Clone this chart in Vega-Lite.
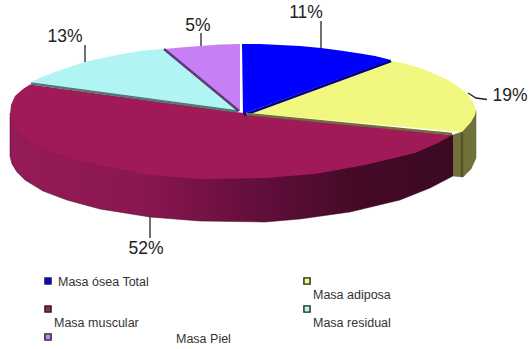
{
"$schema":"https://vega.github.io/schema/vega-lite/v6.json",
"width":529,"height":349,"padding":0,"autosize":{"type":"fit","contains":"padding"},
"background":"white","view":{"stroke":null},
"datasets":{
"outline":[
{"part":"wallMaroon","seq":1,"x":10,"y":113},{"part":"wallMaroon","seq":2,"x":10,"y":156},{"part":"wallMaroon","seq":3,"x":12,"y":164},{"part":"wallMaroon","seq":4,"x":17,"y":172},{"part":"wallMaroon","seq":5,"x":25,"y":180},{"part":"wallMaroon","seq":6,"x":43,"y":191},{"part":"wallMaroon","seq":7,"x":67,"y":200},{"part":"wallMaroon","seq":8,"x":100,"y":209},{"part":"wallMaroon","seq":9,"x":150,"y":217},{"part":"wallMaroon","seq":10,"x":200,"y":221},{"part":"wallMaroon","seq":11,"x":265,"y":222},{"part":"wallMaroon","seq":12,"x":300,"y":219},{"part":"wallMaroon","seq":13,"x":350,"y":212},{"part":"wallMaroon","seq":14,"x":400,"y":200},{"part":"wallMaroon","seq":15,"x":430,"y":188},{"part":"wallMaroon","seq":16,"x":453,"y":176},{"part":"wallMaroon","seq":17,"x":453,"y":135},{"part":"wallMaroon","seq":18,"x":265,"y":150},{"part":"wallMaroon","seq":19,"x":10,"y":113},
{"part":"wallYellow","seq":1,"x":453,"y":135},{"part":"wallYellow","seq":2,"x":462,"y":132},{"part":"wallYellow","seq":3,"x":471,"y":122},{"part":"wallYellow","seq":4,"x":476,"y":110},{"part":"wallYellow","seq":5,"x":476,"y":158},{"part":"wallYellow","seq":6,"x":471,"y":169},{"part":"wallYellow","seq":7,"x":463,"y":177},{"part":"wallYellow","seq":8,"x":453,"y":176},
{"part":"Masa muscular","seq":1,"x":30,"y":84.5},{"part":"Masa muscular","seq":2,"x":23,"y":89},{"part":"Masa muscular","seq":3,"x":15,"y":96},{"part":"Masa muscular","seq":4,"x":11,"y":105},{"part":"Masa muscular","seq":5,"x":10,"y":115},{"part":"Masa muscular","seq":6,"x":13,"y":124},{"part":"Masa muscular","seq":7,"x":23,"y":135},{"part":"Masa muscular","seq":8,"x":35,"y":144},{"part":"Masa muscular","seq":9,"x":50,"y":151},{"part":"Masa muscular","seq":10,"x":70,"y":158},{"part":"Masa muscular","seq":11,"x":100,"y":165},{"part":"Masa muscular","seq":12,"x":150,"y":175},{"part":"Masa muscular","seq":13,"x":200,"y":179},{"part":"Masa muscular","seq":14,"x":265,"y":178},{"part":"Masa muscular","seq":15,"x":315,"y":174},{"part":"Masa muscular","seq":16,"x":365,"y":165},{"part":"Masa muscular","seq":17,"x":415,"y":153},{"part":"Masa muscular","seq":18,"x":438,"y":143},{"part":"Masa muscular","seq":19,"x":452,"y":135},{"part":"Masa muscular","seq":20,"x":265,"y":115},{"part":"Masa muscular","seq":21,"x":240,"y":112.5},
{"part":"Masa ósea Total","seq":1,"x":242,"y":44},{"part":"Masa ósea Total","seq":2,"x":260,"y":44},{"part":"Masa ósea Total","seq":3,"x":280,"y":45},{"part":"Masa ósea Total","seq":4,"x":300,"y":46},{"part":"Masa ósea Total","seq":5,"x":321,"y":48},{"part":"Masa ósea Total","seq":6,"x":340,"y":50.5},{"part":"Masa ósea Total","seq":7,"x":360,"y":53.5},{"part":"Masa ósea Total","seq":8,"x":375,"y":56},{"part":"Masa ósea Total","seq":9,"x":391,"y":60},{"part":"Masa ósea Total","seq":10,"x":243,"y":114},
{"part":"Masa adiposa","seq":1,"x":391,"y":61},{"part":"Masa adiposa","seq":2,"x":405,"y":63.5},{"part":"Masa adiposa","seq":3,"x":420,"y":68},{"part":"Masa adiposa","seq":4,"x":435,"y":74},{"part":"Masa adiposa","seq":5,"x":450,"y":81},{"part":"Masa adiposa","seq":6,"x":460,"y":88},{"part":"Masa adiposa","seq":7,"x":468,"y":95},{"part":"Masa adiposa","seq":8,"x":473,"y":102},{"part":"Masa adiposa","seq":9,"x":476,"y":110},{"part":"Masa adiposa","seq":10,"x":475,"y":115},{"part":"Masa adiposa","seq":11,"x":471,"y":122},{"part":"Masa adiposa","seq":12,"x":462,"y":132},{"part":"Masa adiposa","seq":13,"x":248,"y":113},
{"part":"Masa residual","seq":1,"x":162,"y":49},{"part":"Masa residual","seq":2,"x":140,"y":51},{"part":"Masa residual","seq":3,"x":120,"y":54.5},{"part":"Masa residual","seq":4,"x":100,"y":58.5},{"part":"Masa residual","seq":5,"x":85,"y":62},{"part":"Masa residual","seq":6,"x":70,"y":67},{"part":"Masa residual","seq":7,"x":55,"y":72},{"part":"Masa residual","seq":8,"x":42,"y":77},{"part":"Masa residual","seq":9,"x":31,"y":82},{"part":"Masa residual","seq":10,"x":236,"y":110},
{"part":"Masa Piel","seq":1,"x":240,"y":44},{"part":"Masa Piel","seq":2,"x":220,"y":44.5},{"part":"Masa Piel","seq":3,"x":200,"y":46},{"part":"Masa Piel","seq":4,"x":180,"y":47.5},{"part":"Masa Piel","seq":5,"x":165,"y":49},{"part":"Masa Piel","seq":6,"x":240,"y":111}
],
"edges":[
{"edge":"cyanEdge","seq":1,"x":31,"y":83.5},{"edge":"cyanEdge","seq":2,"x":238,"y":111.5},
{"edge":"purpleEdge","seq":1,"x":164,"y":49},{"edge":"purpleEdge","seq":2,"x":239,"y":111},
{"edge":"blueEdge","seq":1,"x":391,"y":61},{"edge":"blueEdge","seq":2,"x":244,"y":115},
{"edge":"yellowEdge","seq":1,"x":246,"y":114},{"edge":"yellowEdge","seq":2,"x":452,"y":134},
{"edge":"yellowCorner","seq":1,"x":462,"y":132},{"edge":"yellowCorner","seq":2,"x":462,"y":177}
],
"leaders":[
{"leader":"11%","seq":1,"x":321,"y":21},{"leader":"11%","seq":2,"x":321,"y":48},
{"leader":"19%","seq":1,"x":468,"y":93},{"leader":"19%","seq":2,"x":476,"y":98},{"leader":"19%","seq":3,"x":487,"y":99.5},
{"leader":"13%","seq":1,"x":85,"y":45},{"leader":"13%","seq":2,"x":85,"y":62},
{"leader":"5%","seq":1,"x":201,"y":33},{"leader":"5%","seq":2,"x":201,"y":46},
{"leader":"52%","seq":1,"x":150,"y":217},{"leader":"52%","seq":2,"x":150,"y":238}
],
"shares":[
{"value":11,"text":"11%","x":306,"y":18},
{"value":19,"text":"19%","x":510,"y":101},
{"value":13,"text":"13%","x":65,"y":42},
{"value":5,"text":"5%","x":198,"y":31},
{"value":52,"text":"52%","x":146,"y":254}
],
"swatches":[
{"name":"Masa ósea Total","x":48,"y":281},
{"name":"Masa adiposa","x":307,"y":281},
{"name":"Masa muscular","x":48,"y":309},
{"name":"Masa residual","x":307,"y":309},
{"name":"Masa Piel","x":48,"y":337}
],
"names":[
{"name":"Masa ósea Total","x":58,"y":282},
{"name":"Masa adiposa","x":313,"y":295},
{"name":"Masa muscular","x":54,"y":323},
{"name":"Masa residual","x":313,"y":323},
{"name":"Masa Piel","x":176,"y":339}
]
},
"encoding":{
"x":{"field":"x","type":"quantitative","scale":{"domain":[0,529],"nice":false,"zero":false},"axis":null},
"y":{"field":"y","type":"quantitative","scale":{"domain":[349,0],"nice":false,"zero":false},"axis":null}
},
"layer":[
{"data":{"name":"outline"},"transform":[{"filter":"datum.part==='wallMaroon'"}],
 "mark":{"type":"line","interpolate":"linear","stroke":"#3a0a22","strokeWidth":0.5,"fill":{"gradient":"linear","x1":0,"y1":0,"x2":1,"y2":0,"stops":[{"offset":0,"color":"#951b57"},{"offset":0.3,"color":"#8a174f"},{"offset":0.55,"color":"#640e3c"},{"offset":0.78,"color":"#440a27"},{"offset":1,"color":"#3c0923"}]}},
 "encoding":{"order":{"field":"seq","type":"quantitative"}}},
{"data":{"name":"outline"},"transform":[{"filter":"datum.part==='wallYellow'"}],
 "mark":{"type":"line","stroke":"#5c5d30","strokeWidth":0.5,"fill":"#70723a"},
 "encoding":{"order":{"field":"seq","type":"quantitative"}}},
{"data":{"name":"outline"},"transform":[{"filter":"datum.part!=='wallMaroon' && datum.part!=='wallYellow'"}],
 "mark":{"type":"line","filled":true,"strokeWidth":0},
 "encoding":{
  "order":{"field":"seq","type":"quantitative"},
  "fill":{"field":"part","type":"nominal","legend":null,"scale":{"domain":["Masa ósea Total","Masa adiposa","Masa muscular","Masa residual","Masa Piel"],"range":["#0000ff","#f2f780","#a01a58","#b0f4f4","#c77ff5"]}}}},
{"data":{"name":"edges"},
 "mark":{"type":"line","strokeWidth":2.5},
 "encoding":{
  "detail":{"field":"edge"},
  "order":{"field":"seq","type":"quantitative"},
  "stroke":{"field":"edge","type":"nominal","legend":null,"scale":{"domain":["cyanEdge","purpleEdge","blueEdge","yellowEdge","yellowCorner"],"range":["#4f7a78","#5a3a78","#00008c","#6e7038","#55562c"]}}}},
{"data":{"name":"leaders"},
 "mark":{"type":"line","stroke":"#222222","strokeWidth":1.3},
 "encoding":{"detail":{"field":"leader"},"order":{"field":"seq","type":"quantitative"}}},
{"data":{"name":"shares"},
 "mark":{"type":"text","font":"Liberation Sans","fontSize":17.5,"fill":"#222222","align":"center","baseline":"alphabetic"},
 "encoding":{"text":{"field":"text"}}},
{"data":{"name":"swatches"},
 "mark":{"type":"point","shape":"square","filled":true,"size":38,"stroke":"#222222","strokeWidth":1.4,"opacity":1},
 "encoding":{"fill":{"field":"name","type":"nominal","legend":null}}},
{"data":{"name":"names"},
 "mark":{"type":"text","font":"Liberation Sans","fontSize":12.5,"fill":"#333333","align":"left","baseline":"middle"},
 "encoding":{"text":{"field":"name"}}}
]
}
